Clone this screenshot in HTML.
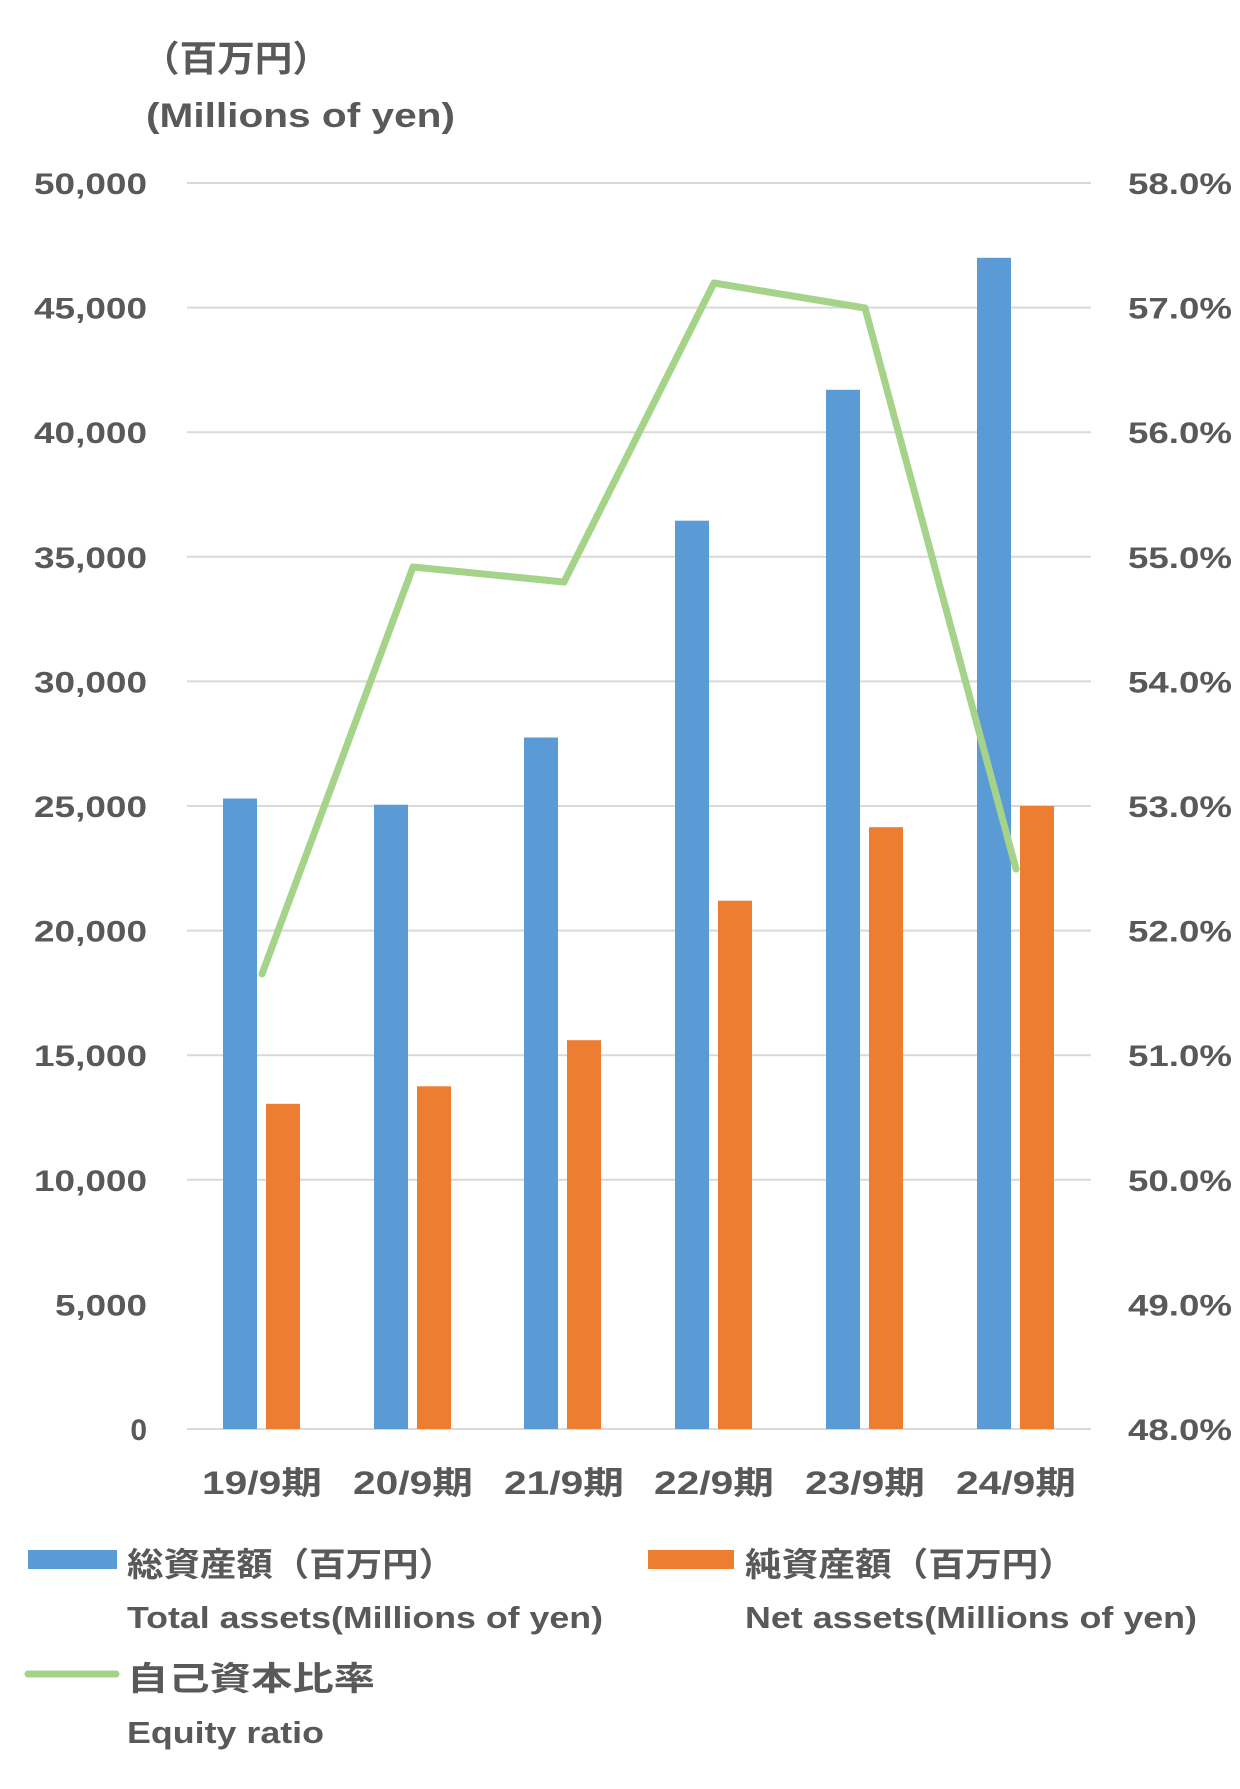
<!DOCTYPE html>
<html><head><meta charset="utf-8"><style>
html,body{margin:0;padding:0;background:#fff;}
svg{display:block;}
text{font-family:"Liberation Sans","Noto Sans CJK JP",sans-serif;font-weight:bold;fill:#595959;}
</style></head><body>
<svg width="1240" height="1789" viewBox="0 0 1240 1789" xmlns="http://www.w3.org/2000/svg">
<g stroke="#D9D9D9" stroke-width="2">
<line x1="187" x2="1091" y1="183" y2="183"/>
<line x1="187" x2="1091" y1="307.6" y2="307.6"/>
<line x1="187" x2="1091" y1="432.2" y2="432.2"/>
<line x1="187" x2="1091" y1="556.8" y2="556.8"/>
<line x1="187" x2="1091" y1="681.4" y2="681.4"/>
<line x1="187" x2="1091" y1="806" y2="806"/>
<line x1="187" x2="1091" y1="930.6" y2="930.6"/>
<line x1="187" x2="1091" y1="1055.2" y2="1055.2"/>
<line x1="187" x2="1091" y1="1179.8" y2="1179.8"/>
<line x1="187" x2="1091" y1="1429" y2="1429"/>
</g>
<g fill="#5B9BD5">
<rect x="223" y="798.5" width="34" height="630.5"/>
<rect x="374" y="804.7" width="34" height="624.3"/>
<rect x="524" y="737.5" width="34" height="691.5"/>
<rect x="675" y="520.7" width="34" height="908.3"/>
<rect x="826" y="389.8" width="34" height="1039.2"/>
<rect x="977" y="257.8" width="34" height="1171.2"/>
</g>
<g fill="#ED7D31">
<rect x="266" y="1103.8" width="34" height="325.2"/>
<rect x="417" y="1086.3" width="34" height="342.7"/>
<rect x="567" y="1040.2" width="34" height="388.8"/>
<rect x="718" y="900.7" width="34" height="528.3"/>
<rect x="869" y="827.2" width="34" height="601.8"/>
<rect x="1020" y="806" width="34" height="623"/>
</g>
<polyline points="262,974 413,567 564,582 714,283 865,308 1016,869" fill="none" stroke="#A5D38A" stroke-width="7" stroke-linejoin="round" stroke-linecap="round"/>
<g font-size="30" text-anchor="end">
<text x="147" y="194" textLength="113" lengthAdjust="spacingAndGlyphs">50,000</text>
<text x="147" y="318.6" textLength="113" lengthAdjust="spacingAndGlyphs">45,000</text>
<text x="147" y="443.2" textLength="113" lengthAdjust="spacingAndGlyphs">40,000</text>
<text x="147" y="567.8" textLength="113" lengthAdjust="spacingAndGlyphs">35,000</text>
<text x="147" y="692.4" textLength="113" lengthAdjust="spacingAndGlyphs">30,000</text>
<text x="147" y="817" textLength="113" lengthAdjust="spacingAndGlyphs">25,000</text>
<text x="147" y="941.6" textLength="113" lengthAdjust="spacingAndGlyphs">20,000</text>
<text x="147" y="1066.2" textLength="113" lengthAdjust="spacingAndGlyphs">15,000</text>
<text x="147" y="1190.8" textLength="113" lengthAdjust="spacingAndGlyphs">10,000</text>
<text x="147" y="1315.4" textLength="92" lengthAdjust="spacingAndGlyphs">5,000</text>
<text x="147" y="1440">0</text>
<text x="1232" y="194" textLength="104" lengthAdjust="spacingAndGlyphs">58.0%</text>
<text x="1232" y="318.6" textLength="104" lengthAdjust="spacingAndGlyphs">57.0%</text>
<text x="1232" y="443.2" textLength="104" lengthAdjust="spacingAndGlyphs">56.0%</text>
<text x="1232" y="567.8" textLength="104" lengthAdjust="spacingAndGlyphs">55.0%</text>
<text x="1232" y="692.4" textLength="104" lengthAdjust="spacingAndGlyphs">54.0%</text>
<text x="1232" y="817" textLength="104" lengthAdjust="spacingAndGlyphs">53.0%</text>
<text x="1232" y="941.6" textLength="104" lengthAdjust="spacingAndGlyphs">52.0%</text>
<text x="1232" y="1066.2" textLength="104" lengthAdjust="spacingAndGlyphs">51.0%</text>
<text x="1232" y="1190.8" textLength="104" lengthAdjust="spacingAndGlyphs">50.0%</text>
<text x="1232" y="1315.4" textLength="104" lengthAdjust="spacingAndGlyphs">49.0%</text>
<text x="1232" y="1440" textLength="104" lengthAdjust="spacingAndGlyphs">48.0%</text>
</g>
<g font-size="32" text-anchor="middle">
<text x="262" y="1494" textLength="120" lengthAdjust="spacingAndGlyphs">19/9期</text>
<text x="413" y="1494" textLength="120" lengthAdjust="spacingAndGlyphs">20/9期</text>
<text x="564" y="1494" textLength="120" lengthAdjust="spacingAndGlyphs">21/9期</text>
<text x="714" y="1494" textLength="120" lengthAdjust="spacingAndGlyphs">22/9期</text>
<text x="865" y="1494" textLength="120" lengthAdjust="spacingAndGlyphs">23/9期</text>
<text x="1016" y="1494" textLength="120" lengthAdjust="spacingAndGlyphs">24/9期</text>
</g>
<text x="142" y="71" font-size="36" textLength="188" lengthAdjust="spacingAndGlyphs">（百万円）</text>
<text x="146" y="127" font-size="34" textLength="309" lengthAdjust="spacingAndGlyphs">(Millions of yen)</text>
<rect x="28" y="1550" width="89" height="19" fill="#5B9BD5"/>
<text x="127" y="1576" font-size="33" textLength="328" lengthAdjust="spacingAndGlyphs">総資産額（百万円）</text>
<text x="127" y="1628" font-size="31" textLength="476" lengthAdjust="spacingAndGlyphs">Total assets(Millions of yen)</text>
<rect x="648" y="1550" width="86" height="19" fill="#ED7D31"/>
<text x="745" y="1576" font-size="33" textLength="330" lengthAdjust="spacingAndGlyphs">純資産額（百万円）</text>
<text x="745" y="1628" font-size="31" textLength="452" lengthAdjust="spacingAndGlyphs">Net assets(Millions of yen)</text>
<line x1="28" x2="116" y1="1674" y2="1674" stroke="#A5D38A" stroke-width="7" stroke-linecap="round"/>
<text x="127" y="1690" font-size="33" textLength="248" lengthAdjust="spacingAndGlyphs">自己資本比率</text>
<text x="127" y="1743" font-size="31" textLength="197" lengthAdjust="spacingAndGlyphs">Equity ratio</text>
</svg>
</body></html>
